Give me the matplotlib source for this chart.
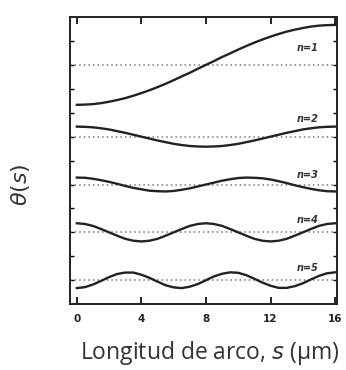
import numpy as np
import matplotlib
matplotlib.use("Agg")
import matplotlib.pyplot as plt

# arc length samples (um)
s = np.arange(0, 16.01, 0.5)

# theta(s) (vertical units = left tick spacing)
theta_n1 = [8.33, 8.34, 8.36, 8.40, 8.46, 8.53, 8.61, 8.71, 8.82, 8.94, 9.07, 9.21, 9.36, 9.52, 9.67, 9.84, 10.00,
            10.16, 10.33, 10.48, 10.64, 10.79, 10.93, 11.06, 11.18, 11.29, 11.39, 11.47, 11.54, 11.60, 11.64, 11.66, 11.67]
theta_n2 = [7.42, 7.41, 7.39, 7.35, 7.30, 7.23, 7.16, 7.08, 7.00, 6.92, 6.84, 6.77, 6.70, 6.65, 6.61, 6.59, 6.58,
            6.59, 6.61, 6.65, 6.70, 6.77, 6.84, 6.92, 7.00, 7.08, 7.16, 7.23, 7.30, 7.35, 7.39, 7.41, 7.42]
theta_n3 = [5.29, 5.28, 5.24, 5.18, 5.11, 5.03, 4.94, 4.86, 4.80, 4.74, 4.72, 4.71, 4.73, 4.78, 4.84, 4.92, 5.00,
            5.08, 5.16, 5.22, 5.27, 5.29, 5.28, 5.26, 5.21, 5.14, 5.06, 4.97, 4.89, 4.82, 4.76, 4.72, 4.71]
theta_n4 = [3.38, 3.35, 3.27, 3.14, 3.00, 2.86, 2.73, 2.65, 2.62, 2.65, 2.73, 2.86, 3.00, 3.14, 3.27, 3.35, 3.38,
            3.35, 3.27, 3.14, 3.00, 2.86, 2.73, 2.65, 2.62, 2.65, 2.73, 2.86, 3.00, 3.14, 3.27, 3.35, 3.38]
theta_n5 = [0.67, 0.71, 0.82, 0.97, 1.13, 1.26, 1.32, 1.32, 1.23, 1.10, 0.94, 0.79, 0.70, 0.67, 0.73, 0.84, 1.00,
            1.16, 1.27, 1.33, 1.31, 1.21, 1.06, 0.90, 0.77, 0.68, 0.68, 0.75, 0.87, 1.03, 1.18, 1.29, 1.33]

curves = [theta_n1, theta_n2, theta_n3, theta_n4, theta_n5]
baselines = [10, 7, 5, 3, 1]
labels = ["n=1", "n=2", "n=3", "n=4", "n=5"]
label_y = [10.7, 7.75, 5.4, 3.5, 1.5]
xticks = [0, 4, 8, 12, 16]

fig = plt.figure(figsize=(3.46, 3.70), dpi=100)
ax = fig.add_axes([0.202, 0.178, 0.772, 0.776])

for th, b, lab, ly in zip(curves, baselines, labels, label_y):
    ax.axhline(b, color="#777777", lw=1.1, ls=(0, (1, 2)))
    ax.plot(s, th, color="#222222", lw=1.7)
    ax.text(14.3, ly, lab, fontsize=7, fontweight="bold", fontstyle="italic",
            ha="center", va="center", color="#333333")

ax.set_xlim(-0.43, 16.12)
ax.set_ylim(0, 12)
ax.set_xticks(xticks)
ax.set_xticklabels([str(v) for v in xticks], fontsize=7.5, fontweight="bold", color="#222222")
ax.set_yticks(range(1, 12))
ax.set_yticklabels([])
ax.tick_params(axis="x", direction="in", length=5, width=1.2, top=True, pad=7)
ax.tick_params(axis="y", direction="in", length=3, width=1, right=True)
for sp in ax.spines.values():
    sp.set_linewidth(1.4)
    sp.set_color("#222222")

fig.text(0.058, 0.5, r"$\theta(s)$", rotation=90, fontsize=16, ha="center", va="center", color="#333333")
fig.text(0.605, 0.046, "Longitud de arco, $s$ (µm)", fontsize=16.5, ha="center", va="center",
         color="#333333", family="Open Sans")

fig.savefig("out.png", dpi=100)
